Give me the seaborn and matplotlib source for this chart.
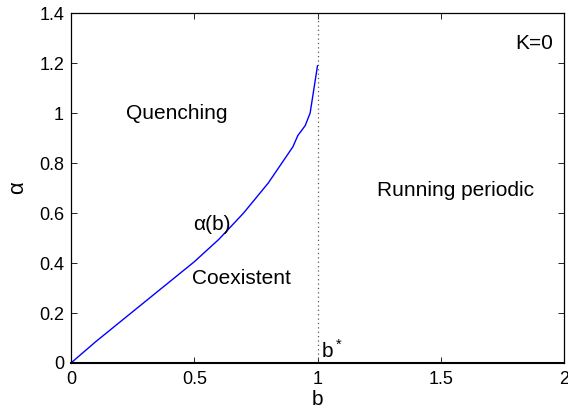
import numpy as np
import pandas as pd
import matplotlib
matplotlib.use("Agg")
import matplotlib.pyplot as plt
import seaborn as sns

# boundary curve alpha(b)
b_vals = [0.0, 0.1, 0.2, 0.3, 0.4, 0.5, 0.6, 0.7, 0.8, 0.9, 0.92, 0.95, 0.97, 1.0]
alpha_vals = [0.0, 0.085, 0.165, 0.245, 0.325, 0.405, 0.495, 0.60, 0.72, 0.865, 0.91, 0.95, 1.0, 1.19]
b_star = 1.0

x_ticks = [0, 0.5, 1, 1.5, 2]
x_ticklabels = ["0", "0.5", "1", "1.5", "2"]
y_ticks = [0, 0.2, 0.4, 0.6, 0.8, 1.0, 1.2, 1.4]
y_ticklabels = ["0", "0.2", "0.4", "0.6", "0.8", "1", "1.2", "1.4"]

df = pd.DataFrame({"b": b_vals, "alpha": alpha_vals})

sns.set_style("ticks")
plt.rcParams['font.family'] = ['Liberation Sans', 'DejaVu Sans']
plt.rcParams['mathtext.fontset'] = 'custom'
plt.rcParams['mathtext.rm'] = 'Liberation Sans'
plt.rcParams['text.color'] = 'black'
plt.rcParams['axes.labelcolor'] = 'black'
plt.rcParams['xtick.color'] = 'black'
plt.rcParams['ytick.color'] = 'black'
plt.rcParams['axes.edgecolor'] = 'black'

fig = plt.figure(figsize=(5.68, 4.12), dpi=100)
ax = fig.add_axes([0.125, 0.119, 0.868, 0.849])

sns.lineplot(data=df, x="b", y="alpha", ax=ax, color="blue", linewidth=1.0)
ax.axvline(b_star, color="0.35", linestyle=(0, (1, 2.5)), linewidth=0.9)

ax.set_xlim(0, 2)
ax.set_ylim(0, 1.4)
ax.set_xticks(x_ticks)
ax.set_xticklabels(x_ticklabels)
ax.set_yticks(y_ticks)
ax.set_yticklabels(y_ticklabels)
ax.tick_params(direction="in", top=True, right=True, labelsize=13, length=4, width=0.6)
ax.tick_params(axis="x", pad=6)
ax.tick_params(axis="y", pad=5)
for s in ax.spines.values():
    s.set_linewidth(0.9)
    s.set_visible(True)
ax.spines["bottom"].set_linewidth(1.5)

ax.set_xlabel("b", fontsize=15, labelpad=1)
ax.set_ylabel("α", fontsize=16, labelpad=8)

fs = 15
ax.text(0.43, 1.0, "Quenching", fontsize=fs, ha="center", va="center")
ax.text(0.57, 0.555, "α(b)", fontsize=fs, ha="center", va="center")
ax.text(0.69, 0.337, "Coexistent", fontsize=fs, ha="center", va="center")
ax.text(1.56, 0.69, "Running periodic", fontsize=fs, ha="center", va="center")
ax.text(1.955, 1.28, "K=0", fontsize=fs, ha="right", va="center")
ax.text(1.015, 0.05, "b$^*$", fontsize=fs, ha="left", va="center")

fig.savefig("out.png", dpi=100)
